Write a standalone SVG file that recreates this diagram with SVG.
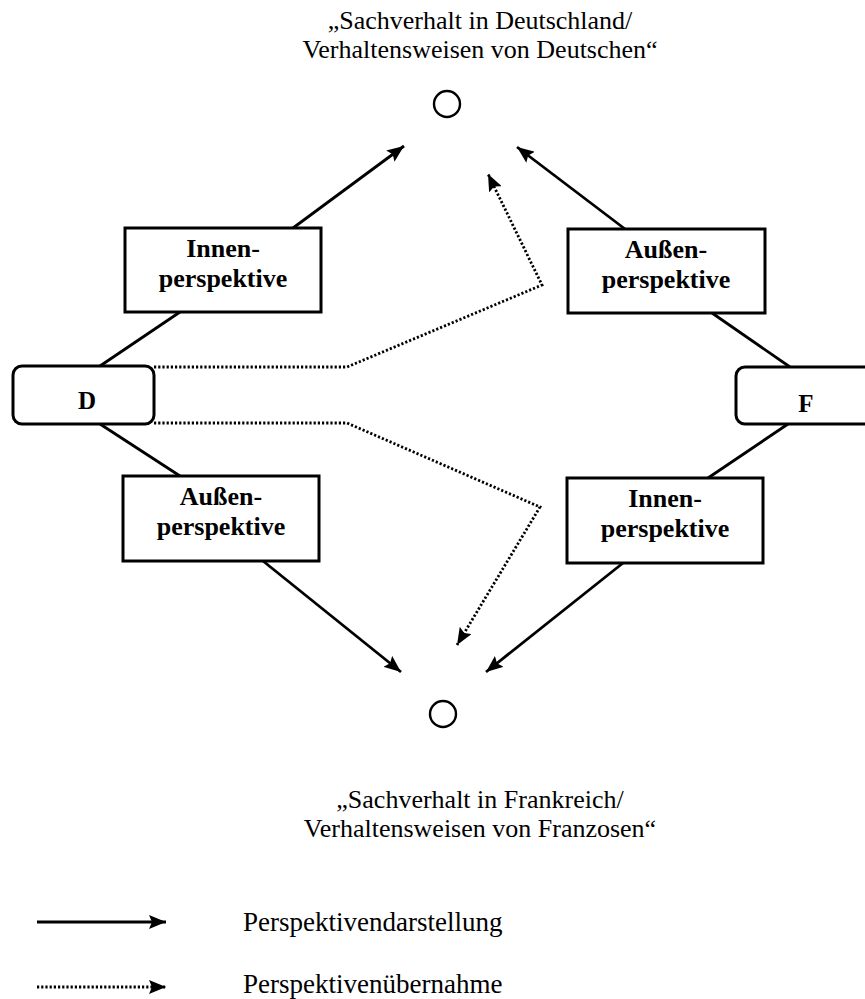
<svg xmlns="http://www.w3.org/2000/svg" width="865" height="999" viewBox="0 0 865 999">
<defs>
<marker id="ah" markerUnits="userSpaceOnUse" markerWidth="18" markerHeight="14" refX="17" refY="7" orient="auto">
<path d="M0,0 L17,7 L0,14 L3,7 Z" fill="#000"/>
</marker>
<style>
.box{fill:#fff;stroke:#000;stroke-width:3}
.bt{font-family:"Liberation Serif",serif;font-weight:bold;font-size:26px;text-anchor:middle;fill:#000}
.lt{font-family:"Liberation Serif",serif;font-size:27px;fill:#000}
.ct{font-family:"Liberation Serif",serif;font-size:26px;text-anchor:middle;fill:#000}
.sol{fill:none;stroke:#000;stroke-width:2.8}
.dot{fill:none;stroke:#000;stroke-width:2.8;stroke-dasharray:2.2 2}
.circ{fill:none;stroke:#000;stroke-width:2.4}
</style>
</defs>
<rect width="865" height="999" fill="#fff"/>

<g id="connectors">
<line class="sol" x1="100" y1="366" x2="180" y2="312"/>
<line class="sol" x1="293" y1="228" x2="404" y2="146" marker-end="url(#ah)"/>
<line class="sol" x1="790" y1="367" x2="712" y2="313"/>
<line class="sol" x1="625" y1="229" x2="517" y2="147" marker-end="url(#ah)"/>
<line class="sol" x1="100" y1="424" x2="180" y2="476"/>
<line class="sol" x1="263" y1="561" x2="401" y2="672" marker-end="url(#ah)"/>
<line class="sol" x1="788" y1="424" x2="708" y2="478"/>
<line class="sol" x1="623" y1="563" x2="486" y2="672" marker-end="url(#ah)"/>
<polyline class="dot" points="154,367 347,367 542,285 488,174" marker-end="url(#ah)"/>
<polyline class="dot" points="154,423 347,423 540,507 457,645" marker-end="url(#ah)"/>
</g>

<g id="sachverhalt-d">
<text class="ct" x="480" y="29">„Sachverhalt in Deutschland/</text>
<text class="ct" x="480" y="58">Verhaltensweisen von Deutschen“</text>
<circle class="circ" cx="447" cy="104" r="13"/>
</g>

<g id="sachverhalt-f">
<circle class="circ" cx="443" cy="714" r="13"/>
<text class="ct" x="480" y="808">„Sachverhalt in Frankreich/</text>
<text class="ct" x="480" y="837">Verhaltensweisen von Franzosen“</text>
</g>

<g id="d-innen">
<rect class="box" x="125" y="228" width="196" height="84"/>
<text class="bt" x="223" y="257">Innen-</text>
<text class="bt" x="223" y="287">perspektive</text>
</g>

<g id="f-aussen">
<rect class="box" x="568" y="229" width="197" height="84"/>
<text class="bt" x="666" y="258">Außen-</text>
<text class="bt" x="666" y="288">perspektive</text>
</g>

<g id="d-aussen">
<rect class="box" x="123" y="476" width="196" height="85"/>
<text class="bt" x="221" y="505">Außen-</text>
<text class="bt" x="221" y="535">perspektive</text>
</g>

<g id="f-innen">
<rect class="box" x="567" y="478" width="196" height="85"/>
<text class="bt" x="665" y="507">Innen-</text>
<text class="bt" x="665" y="537">perspektive</text>
</g>

<g id="node-d">
<rect class="box" x="13" y="366" width="141" height="58" rx="9"/>
<text class="bt" x="87" y="409" style="font-size:25px">D</text>
</g>

<g id="node-f">
<rect class="box" x="736" y="367" width="141" height="57" rx="9"/>
<text class="bt" x="806" y="412" style="font-size:25px">F</text>
</g>

<g id="legend">
<line class="sol" x1="37" y1="922" x2="166" y2="922" marker-end="url(#ah)"/>
<text class="lt" x="243" y="931">Perspektivendarstellung</text>
<line class="dot" x1="37" y1="987" x2="166" y2="987" marker-end="url(#ah)"/>
<text class="lt" x="243" y="993">Perspektivenübernahme</text>
</g>
</svg>
